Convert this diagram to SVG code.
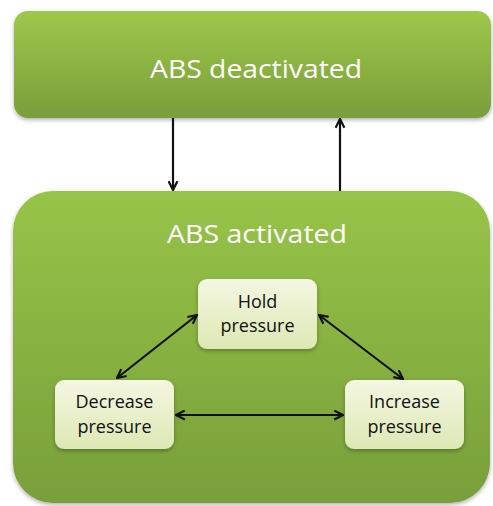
<svg xmlns="http://www.w3.org/2000/svg" width="493" height="506" viewBox="0 0 493 506">
<defs>
<linearGradient id="gTop" x1="0" y1="0" x2="0" y2="1">
<stop offset="0" stop-color="#9dc84a"/>
<stop offset="1" stop-color="#7a9e3b"/>
</linearGradient>
<linearGradient id="gBot" x1="0" y1="0" x2="0" y2="1">
<stop offset="0" stop-color="#97c448"/>
<stop offset="1" stop-color="#789f3a"/>
</linearGradient>
<linearGradient id="gSmall" x1="0" y1="0" x2="0" y2="1">
<stop offset="0" stop-color="#f4f7e2"/>
<stop offset="1" stop-color="#dde8b4"/>
</linearGradient>
<filter id="sh" x="-10%" y="-10%" width="120%" height="130%">
<feDropShadow dx="0" dy="2" stdDeviation="2" flood-color="#000" flood-opacity="0.3"/>
</filter>
<marker id="ah" viewBox="0 0 10 10" refX="9" refY="5" markerWidth="5" markerHeight="5" orient="auto-start-reverse" markerUnits="strokeWidth">
<path d="M1,1 L9,5 L1,9" fill="none" stroke="#111" stroke-width="2"/>
</marker>
<style>
.big{font-family:"Open Sans","Liberation Sans",sans-serif;fill:#fff;text-anchor:middle}
.sm{font-family:"Open Sans","Liberation Sans",sans-serif;font-size:18px;fill:#111;text-anchor:middle}
.c{stroke:#111;stroke-width:2.2;fill:none;marker-end:url(#ah)}
.c2{stroke:#111;stroke-width:2.2;fill:none;marker-end:url(#ah);marker-start:url(#ah)}
</style>
</defs>
<g id="deactivated">
<rect x="14" y="11" width="477" height="107" rx="14" fill="url(#gTop)" filter="url(#sh)"/>
<text class="big" x="256" y="78" font-size="25" textLength="212" lengthAdjust="spacingAndGlyphs">ABS deactivated</text>
</g>
<g id="activated">
<rect x="13" y="191" width="477" height="312" rx="40" fill="url(#gBot)" filter="url(#sh)"/>
<text class="big" x="257" y="243" font-size="26" textLength="180" lengthAdjust="spacingAndGlyphs">ABS activated</text>
</g>
<g id="hold">
<rect x="198" y="279" width="119" height="70" rx="9" fill="url(#gSmall)" filter="url(#sh)"/>
<text class="sm" x="257.5" y="308">Hold</text>
<text class="sm" x="257.5" y="332">pressure</text>
</g>
<g id="decrease">
<rect x="55" y="380" width="119" height="69" rx="9" fill="url(#gSmall)" filter="url(#sh)"/>
<text class="sm" x="114.5" y="408">Decrease</text>
<text class="sm" x="114.5" y="433">pressure</text>
</g>
<g id="increase">
<rect x="345" y="380" width="119" height="69" rx="9" fill="url(#gSmall)" filter="url(#sh)"/>
<text class="sm" x="404.5" y="408">Increase</text>
<text class="sm" x="404.5" y="433">pressure</text>
</g>
<g id="connectors">
<line class="c" x1="173" y1="118" x2="173" y2="190"/>
<line class="c" x1="340" y1="191" x2="340" y2="119"/>
<line class="c2" x1="117" y1="378" x2="197" y2="315"/>
<line class="c2" x1="319" y1="315" x2="403" y2="379"/>
<line class="c2" x1="176" y1="415" x2="343" y2="415"/>
</g>
</svg>
